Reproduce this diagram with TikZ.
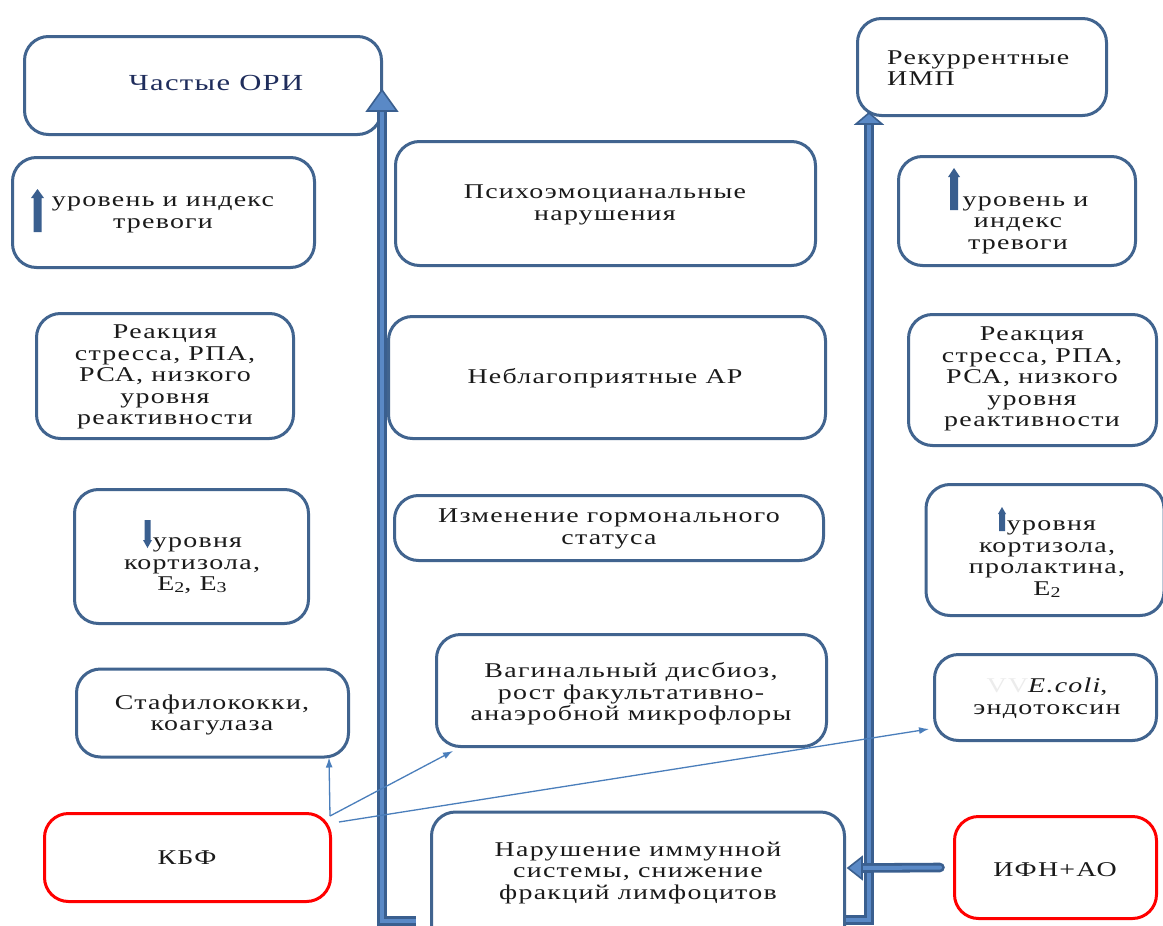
\documentclass[tikz,border=0pt]{standalone}
\usepackage{fontspec}
\setmainfont{Liberation Serif}[FakeStretch=1.33,LetterSpace=6]
\usetikzlibrary{calc,arrows.meta}
\definecolor{bdr}{HTML}{41648F}
\definecolor{thk}{HTML}{3A5F8F}
\definecolor{thkin}{HTML}{5A89C6}
\definecolor{thin}{HTML}{4A7EBB}
\definecolor{redb}{HTML}{FF0000}
\definecolor{navy}{HTML}{1F2D5C}
\definecolor{txt}{HTML}{1A1A1A}
\tikzset{
  box/.style={draw=bdr, line width=3pt, rounded corners=24pt, inner sep=0pt},
  redbox/.style={box, draw=redb},
  lbl/.style={align=center, text=txt, font=\fontsize{21}{21.5}\selectfont, inner sep=0pt},
  thickline/.style={draw=thk, line width=2.8pt, double=thkin, double distance=4pt, line join=miter},
  headshape/.style={fill=thkin, draw=thk, line width=1.6pt, line join=miter},
  thinarrow/.style={draw=thin, line width=1.3pt, -{Latex[length=10pt,width=7pt]}},
  glyph/.style={fill=thk}
}
\newcommand{\sbs}[1]{\raisebox{-2pt}{\fontsize{15}{15}\selectfont #1}}
\begin{document}
\begin{tikzpicture}[x=1pt,y=-1pt]
\useasboundingbox (0,0) rectangle (1163,926);
\fill[white] (0,0) rectangle (1163,926);

% boxes
\node[box, minimum width=357pt, minimum height=98pt] (ori) at (203,85.5) {};
\node[box, minimum width=302pt, minimum height=110pt] (anx1) at (163.5,212.5) {};
\node[box, minimum width=257pt, minimum height=125pt] (rea1) at (165,376) {};
\node[box, minimum width=234pt, minimum height=134pt] (cor1) at (191.5,556.5) {};
\node[box, minimum width=272pt, minimum height=88pt] (sta) at (212.5,713) {};
\node[redbox, minimum width=286pt, minimum height=88pt] (kbf) at (187.5,857.5) {};

\node[box, minimum width=420pt, minimum height=124pt] (psy) at (605.5,203.5) {};
\node[box, minimum width=437pt, minimum height=122pt] (neb) at (607,377.5) {};
\node[box, minimum width=429pt, minimum height=65pt] (izm) at (609,528) {};
\node[box, minimum width=390pt, minimum height=112pt] (vag) at (631.5,690.5) {};
\node[box, minimum width=413pt, minimum height=140pt] (nar) at (638,882) {};

\node[box, minimum width=249pt, minimum height=97pt] (imp) at (982,67) {};
\node[box, minimum width=237pt, minimum height=109pt] (anx2) at (1017,211) {};
\node[box, minimum width=248pt, minimum height=131pt] (rea2) at (1032.5,380) {};
\node[box, minimum width=238pt, minimum height=131pt] (cor2) at (1045,550) {};
\node[box, minimum width=222pt, minimum height=86pt] (eco) at (1045.5,697.5) {};
\node[redbox, minimum width=202pt, minimum height=102pt] (ifn) at (1055.5,867.5) {};

% texts
\node[lbl, text=navy, font=\fontsize{23}{25}\selectfont] (tori) at (216,83) {Частые ОРИ};
\node[lbl] (tanx1) at (163,215) {уровень и индекс\\тревоги};
\node[lbl] (trea1) at (165,377) {Реакция\\стресса, РПА,\\РСА, низкого\\уровня\\реактивности};
\node[lbl] (tcor1) at (192,566) {\hspace*{11pt}уровня\\кортизола,\\E\sbs{2}, E\sbs{3}};
\node[lbl] (tsta) at (212,715) {Стафилококки,\\коагулаза};
\node[lbl] (tkbf) at (187,858) {КБФ};

\node[lbl] (tpsy) at (605,205) {Психоэмоцианальные\\нарушения};
\node[lbl] (tneb) at (605,378) {Неблагоприятные АР};
\node[lbl] (tizm) at (609,529) {Изменение гормонального\\статуса};
\node[lbl] (tvag) at (631,694) {Вагинальный дисбиоз,\\рост факультативно-\\анаэробной микрофлоры};
\node[lbl] (tnar) at (638,873) {Нарушение иммунной\\системы, снижение\\фракций лимфоцитов};

\node[lbl, align=left, anchor=west] (timp) at (887,68) {Рекуррентные\\ИМП};
\node[lbl] (tanx2) at (1018,225) {\hspace*{15pt}уровень и\\индекс\\тревоги};
\node[lbl] (trea2) at (1032,379) {Реакция\\стресса, РПА,\\РСА, низкого\\уровня\\реактивности};
\node[lbl] (tcor2) at (1047,559) {\hspace*{9pt}уровня\\кортизола,\\пролактина,\\E\sbs{2}};
\node[lbl] (teco) at (1047,698) {\textcolor{gray!15}{VV}\textit{E.coli},\\эндотоксин};
\node[lbl] (tifn) at (1055,870) {ИФН+АО};

% inline arrow glyphs
\fill[glyph] (37.5,189) -- (44,198) -- (41.5,198) -- (41.5,232) -- (33.5,232) -- (33.5,198) -- (31,198) -- cycle;
\fill[glyph] (954,168) -- (960,177) -- (958,177) -- (958,210) -- (950,210) -- (950,177) -- (948,177) -- cycle;
\fill[glyph] (147.5,548) -- (152,540) -- (150.5,540) -- (150.5,520) -- (144.5,520) -- (144.5,540) -- (143,540) -- cycle;
\fill[glyph] (1002,507) -- (1006,514) -- (1005,514) -- (1005,531) -- (999,531) -- (999,514) -- (998,514) -- cycle;

% thick connectors
\coordinate (lb) at (416,921);
\coordinate (lc) at (382,921);
\coordinate (lt) at (382,111);
\draw[thickline] (lb) -- (lc) -- (lt);
\draw[headshape] (367,111) -- (397,111) -- (382,90) -- cycle;

\coordinate (rb) at (846,920);
\coordinate (rc) at (869,920);
\coordinate (rt) at (869,124);
\draw[thickline] (rb) -- (rc) -- (rt);
\draw[headshape] (856,124) -- (882,124) -- (869,113) -- cycle;

\coordinate (ia) at ($(ifn.west)+(-13,0)$);
\coordinate (ib) at (862,868);
\draw[thickline, line cap=round] (ia) -- (ib);
\draw[headshape] (862,857) -- (862,879) -- (848,868) -- cycle;

% thin connectors from KBF
\coordinate (k1) at (330,816);
\coordinate (k2) at (339,822);
\draw[thinarrow] (k1) -- ($(sta.south east)+(-21,-1)$);
\draw[thinarrow] (k1) -- ($(vag.south west)+(18,3)$);
\draw[thinarrow] (k2) -- ($(eco.south west)+(-4,-13)$);
\end{tikzpicture}
\end{document}
